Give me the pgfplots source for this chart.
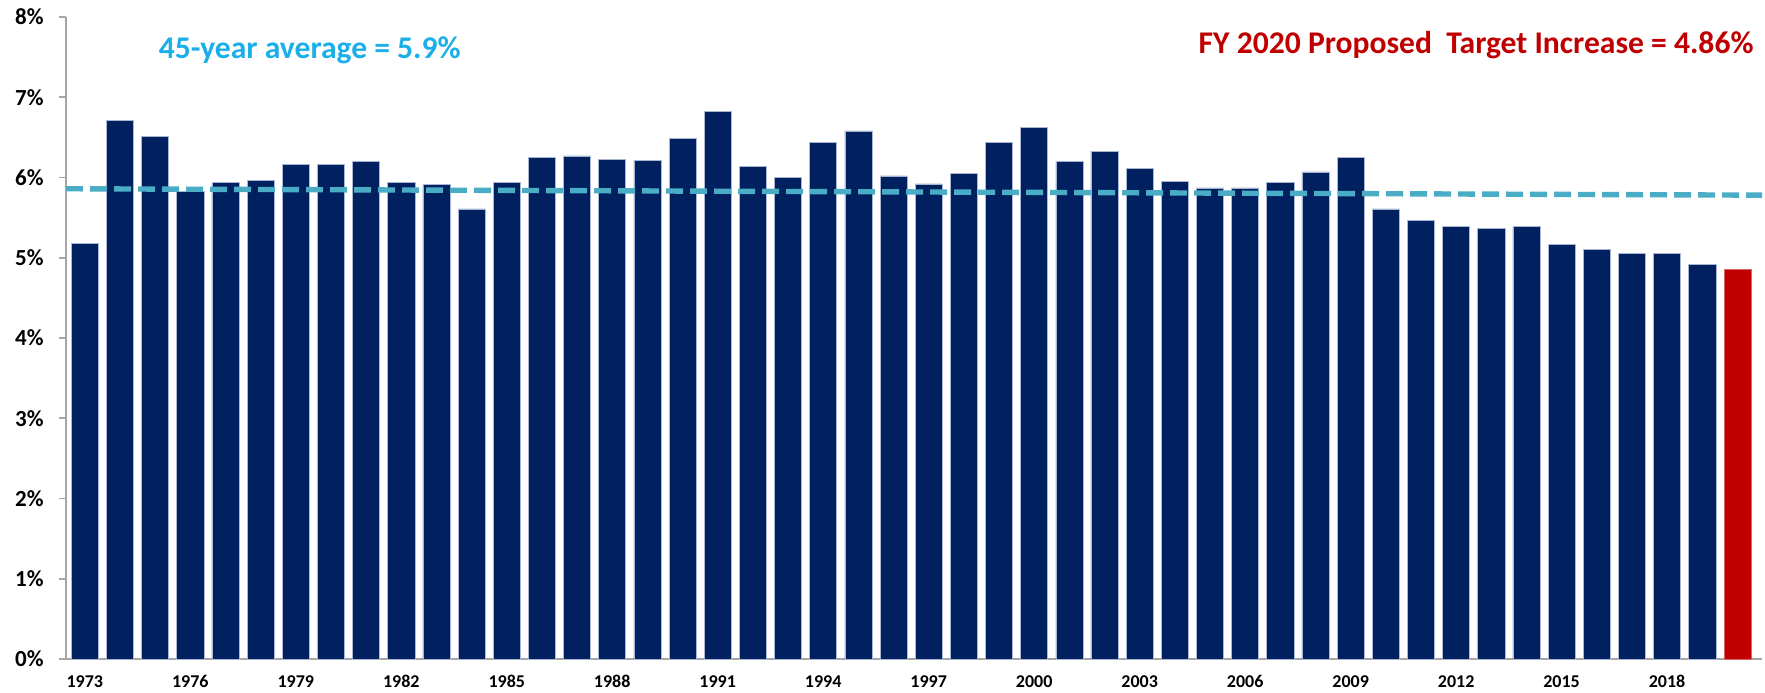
\documentclass[border=0pt]{standalone}
\usepackage{pgfplots}
\pgfplotsset{compat=1.18}
\usepackage{fontspec}
\setmainfont{Carlito}[Numbers=Lining]
\definecolor{navybar}{HTML}{002060}
\definecolor{redbar}{HTML}{C00000}
\definecolor{avgline}{HTML}{4BACC6}
\definecolor{avgtext}{HTML}{1AAFE8}
\definecolor{axisgray}{HTML}{A6A6A6}
\definecolor{baredge}{HTML}{A9B6D3}
\begin{document}
\begin{tikzpicture}
\useasboundingbox (-33pt,-16.5pt) rectangle (849.5pt,329.5pt);
\begin{axis}[
  at={(0,0)}, anchor=south west,
  scale only axis,
  width=848pt, height=321pt,
  xmin=-0.535, xmax=47.70,
  ymin=0, ymax=8,
  axis x line*=bottom, axis y line*=left,
  axis line style={draw=axisgray, line width=0.8pt},
  xtick={0,3,6,9,12,15,18,21,24,27,30,33,36,39,42,45},
  xticklabels={1973,1976,1979,1982,1985,1988,1991,1994,1997,2000,2003,2006,2009,2012,2015,2018},
  xtick style={draw=none},
  ytick={0,1,2,3,4,5,6,7,8},
  yticklabels={0\%,1\%,2\%,3\%,4\%,5\%,6\%,7\%,8\%},
  ytick align=outside,
  ytick style={draw=axisgray, line width=0.8pt},
  major tick length=3.5pt,
  xticklabel style={font=\fontsize{9}{10}\selectfont\bfseries, anchor=base, inner sep=0pt, yshift=-14pt},
  yticklabel style={font=\fontsize{11.5}{13}\selectfont\bfseries, anchor=east, inner sep=0pt, xshift=-7.5pt},
  clip=true,
]
\addplot[ybar, bar width=0.77, bar shift=0pt, fill=navybar, draw=baredge, line width=0.3pt] coordinates {
(0,5.18) (1,6.71) (2,6.51) (3,5.83) (4,5.94) (5,5.96) (6,6.16) (7,6.16) (8,6.20) (9,5.94)
(10,5.91) (11,5.61) (12,5.94) (13,6.25) (14,6.27) (15,6.23) (16,6.21) (17,6.49) (18,6.82) (19,6.14)
(20,6.00) (21,6.44) (22,6.58) (23,6.02) (24,5.92) (25,6.05) (26,6.44) (27,6.62) (28,6.20) (29,6.33)
(30,6.11) (31,5.95) (32,5.87) (33,5.87) (34,5.94) (35,6.07) (36,6.25) (37,5.61) (38,5.47) (39,5.39)
(40,5.37) (41,5.39) (42,5.17) (43,5.10) (44,5.05) (45,5.05) (46,4.92)
};
\addplot[ybar, bar width=0.77, bar shift=0pt, fill=redbar, draw=redbar!60!white, line width=0.3pt] coordinates {(47,4.86)};
\addplot[sharp plot, no markers, color=avgline, line width=2.7pt, dash pattern=on 8.5pt off 3.5pt] coordinates {(-0.535,5.86) (47.70,5.78)};
\node[text=avgtext, font=\fontsize{15.8}{18}\selectfont\bfseries, anchor=center] at (axis cs:6.4,7.59) {45-year average = 5.9\%};
\node[text=redbar, font=\fontsize{15.8}{18}\selectfont\bfseries, anchor=east, inner sep=0pt] at (axis cs:47.47,7.65) {FY 2020 Proposed\ \ Target Increase = 4.86\%};
\end{axis}
\end{tikzpicture}
\end{document}
